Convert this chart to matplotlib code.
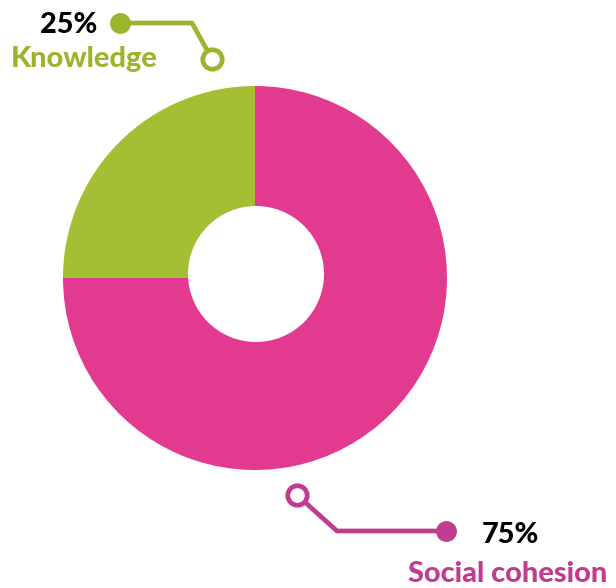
import matplotlib
matplotlib.use("Agg")
import matplotlib.pyplot as plt
from matplotlib.patches import Circle

# data
labels = ["Social cohesion", "Knowledge"]
values = [75, 25]
pct_text = ["75%", "25%"]

wedge_colors = ["#E23A8E", "#A4BF33"]
label_colors = ["#C13C8F", "#9BB52F"]

W, H = 616, 588


def py(y):
    # pixel row -> data y (axis runs bottom to top)
    return H - y


fig = plt.figure(figsize=(W / 100, H / 100), dpi=100)
ax = fig.add_axes([0, 0, 1, 1])

ax.pie(values, colors=wedge_colors, startangle=90, counterclock=False,
       center=(255, py(278)), radius=192,
       wedgeprops=dict(linewidth=0))
# hole
ax.add_patch(Circle((256, py(274)), 68, facecolor="white", edgecolor="none", zorder=3))

ax.set_xlim(0, W)
ax.set_ylim(0, H)
ax.set_aspect("equal")
ax.axis("off")

font = dict(family="Lato", fontweight=900, fontsize=20.8)

# Knowledge callout (top)
c = label_colors[1]
ax.plot([120, 192, 212], [py(23), py(23), py(59)], color=c, lw=3.4,
        solid_capstyle="round", zorder=4)
ax.plot(120, py(23), "o", ms=14, color=c, zorder=5)
ax.plot(212, py(59), "o", ms=14, mfc="white", mec=c, mew=3.4, zorder=5)
ax.text(40, py(33), pct_text[1], color="black", ha="left", va="baseline", **font)
ax.text(11, py(67), labels[1], color=c, ha="left", va="baseline", **font)

# Social cohesion callout (bottom)
c = label_colors[0]
ax.plot([297, 337, 446], [py(495), py(531), py(531)], color=c, lw=3.4,
        solid_capstyle="round", zorder=4)
ax.plot(446, py(531), "o", ms=14, color=c, zorder=5)
ax.plot(297, py(495), "o", ms=14, mfc="white", mec=c, mew=3.4, zorder=5)
ax.text(482, py(543), pct_text[0], color="black", ha="left", va="baseline", **font)
ax.text(408, py(582), labels[0], color=c, ha="left", va="baseline", **font)

fig.savefig("out.png", dpi=100)
